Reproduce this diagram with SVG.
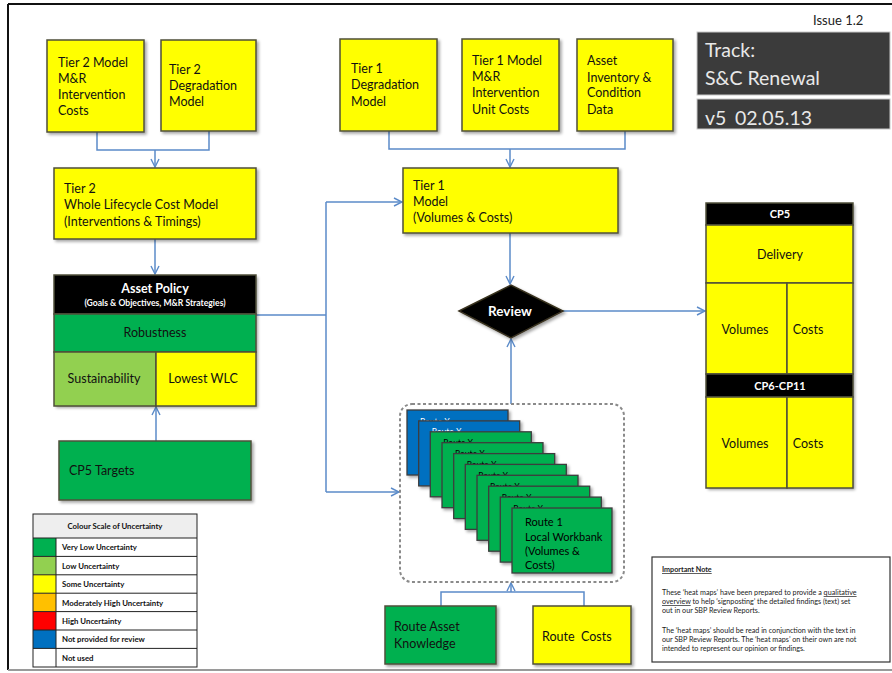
<svg xmlns="http://www.w3.org/2000/svg" width="892" height="673" viewBox="0 0 892 673">
<defs>
<filter id="sh" x="-10%" y="-10%" width="130%" height="130%"><feDropShadow dx="2" dy="2" stdDeviation="1.5" flood-color="#000" flood-opacity="0.35"/></filter>
<marker id="ah" viewBox="0 0 10 10" refX="9" refY="5" markerWidth="10" markerHeight="10" markerUnits="userSpaceOnUse" orient="auto"><path d="M1,1 L9,5 L1,9" fill="none" stroke="#5b8bc9" stroke-width="1.4"/></marker>
<style>
.bx{stroke:#4f4f3a;stroke-width:1.5}
.y{fill:#ffff00}.g{fill:#00b050}.lg{fill:#92d050}.b{fill:#0070c0}.k{fill:#000}
.t{font-family:Lato,"Open Sans","Liberation Sans",sans-serif;font-size:12.5px;fill:#111}
.c{text-anchor:middle}
.wb{font-family:Lato,"Open Sans","Liberation Sans",sans-serif;font-weight:bold;fill:#fff}
.cn{fill:none;stroke:#5b8bc9;stroke-width:1.5}
.ar{marker-end:url(#ah)}
.lt{font-family:Lato,"Open Sans","Liberation Sans",sans-serif;font-size:7.8px;fill:#111;font-weight:bold}
.nt{font-family:Lato,"Open Sans","Liberation Sans",sans-serif;font-size:7.2px;fill:#222}
.tt{font-family:Lato,"Open Sans","Liberation Sans",sans-serif;font-size:19.5px;fill:#e8e8e8}
.card{stroke:#3d3d3d;stroke-width:1.3}
.rx{font-size:8.5px}
</style>
</defs>
<rect width="892" height="673" fill="#fff"/>
<g id="frame">
<path d="M8,4 H892 M8,4 V670" fill="none" stroke="#111" stroke-width="2"/>
<path d="M8,670 H892" fill="none" stroke="#9a9a9a" stroke-width="2"/>
</g>
<g id="title">
<text x="813" y="25" font-family="Lato,'Open Sans',sans-serif" font-size="13" fill="#222">Issue 1.2</text>
<rect x="697" y="32" width="193" height="63" fill="#3b3b3b" stroke="#c8c8c8" stroke-width="1"/>
<text class="tt" x="705" y="57">Track:</text>
<text class="tt" x="705" y="85">S&amp;C Renewal</text>
<rect x="697" y="99" width="193" height="30" fill="#3b3b3b" stroke="#c8c8c8" stroke-width="1"/>
<text class="tt" x="705" y="125">v5</text>
<text class="tt" x="735" y="125">02.05.13</text>
</g>
<g id="connectors">
<path class="cn" d="M97,132 V150 H209 V131"/>
<path class="cn ar" d="M155,150 V167"/>
<path class="cn ar" d="M155,239 V274"/>
<path class="cn" d="M389,131 V149 H625 V131"/>
<path class="cn ar" d="M510,149 V167"/>
<path class="cn ar" d="M510,233 V284"/>
<path class="cn" d="M256,315 H326 M326,202 V492"/>
<path class="cn ar" d="M326,202 H402"/>
<path class="cn ar" d="M326,492 H399"/>
<path class="cn ar" d="M563,311 H705"/>
<path class="cn ar" d="M511,404 V339"/>
<path class="cn ar" d="M156,441 V407"/>
<path class="cn" d="M441,606 V592 H584 V606"/>
<path class="cn ar" d="M511,592 V583"/>
</g>
<g id="tier2-mr">
<rect class="bx y" x="47" y="40" width="97" height="92" filter="url(#sh)"/>
<text class="t" x="58" y="67">Tier 2 Model</text>
<text class="t" x="58" y="83">M&amp;R</text>
<text class="t" x="58" y="99">Intervention</text>
<text class="t" x="58" y="115">Costs</text>
</g>
<g id="tier2-deg">
<rect class="bx y" x="161" y="40" width="95" height="91" filter="url(#sh)"/>
<text class="t" x="169" y="74">Tier 2</text>
<text class="t" x="169" y="90">Degradation</text>
<text class="t" x="169" y="106">Model</text>
</g>
<g id="tier2-wlc">
<rect class="bx y" x="54" y="168" width="202" height="71" filter="url(#sh)"/>
<text class="t" x="64" y="193">Tier 2</text>
<text class="t" x="64" y="209">Whole Lifecycle Cost Model</text>
<text class="t" x="64" y="226">(Interventions &amp; Timings)</text>
</g>
<g id="asset-policy">
<rect x="54" y="275" width="202" height="131" fill="#fff" filter="url(#sh)"/>
<rect class="bx k" x="54" y="275" width="202" height="39"/>
<rect class="bx g" x="54" y="314" width="202" height="38"/>
<rect class="bx lg" x="54" y="352" width="102" height="54"/>
<rect class="bx y" x="156" y="352" width="100" height="54"/>
<text class="wb c" x="155" y="293" font-size="12.5">Asset Policy</text>
<text class="wb c" x="155" y="306" font-size="8.6">(Goals &amp; Objectives, M&amp;R Strategies)</text>
<text class="t c" x="155" y="337">Robustness</text>
<text class="t c" x="104" y="383">Sustainability</text>
<text class="t c" x="203" y="383">Lowest WLC</text>
</g>
<g id="cp5-targets">
<rect class="bx g" x="59" y="441" width="192" height="59" filter="url(#sh)"/>
<text class="t" x="69" y="475">CP5 Targets</text>
</g>
<g id="tier1-deg">
<rect class="bx y" x="340" y="39" width="97" height="92" filter="url(#sh)"/>
<text class="t" x="351" y="73">Tier 1</text>
<text class="t" x="351" y="89">Degradation</text>
<text class="t" x="351" y="106">Model</text>
</g>
<g id="tier1-mr">
<rect class="bx y" x="462" y="39" width="97" height="92" filter="url(#sh)"/>
<text class="t" x="472" y="65">Tier 1 Model</text>
<text class="t" x="472" y="81">M&amp;R</text>
<text class="t" x="472" y="97">Intervention</text>
<text class="t" x="472" y="114">Unit Costs</text>
</g>
<g id="asset-inventory">
<rect class="bx y" x="577" y="39" width="96" height="92" filter="url(#sh)"/>
<text class="t" x="587" y="65">Asset</text>
<text class="t" x="587" y="82">Inventory &amp;</text>
<text class="t" x="587" y="97">Condition</text>
<text class="t" x="587" y="114">Data</text>
</g>
<g id="tier1-model">
<rect class="bx y" x="403" y="168" width="215" height="65" filter="url(#sh)"/>
<text class="t" x="413" y="190">Tier 1</text>
<text class="t" x="413" y="206">Model</text>
<text class="t" x="413" y="222">(Volumes &amp; Costs)</text>
</g>
<g id="review">
<path d="M459,311 L511,285 L563,311 L511,338 Z" fill="#000" stroke="#3a3320" stroke-width="1.5" filter="url(#sh)"/>
<text class="wb c" x="510" y="316" font-size="13.5">Review</text>
</g>
<g id="cp5">
<rect x="706" y="203" width="147" height="285" fill="#fff" filter="url(#sh)"/>
<rect class="bx k" x="706" y="203" width="147" height="22"/>
<rect class="bx y" x="706" y="225" width="147" height="58"/>
<rect class="bx y" x="706" y="283" width="81" height="91"/>
<rect class="bx y" x="787" y="283" width="66" height="91"/>
<rect class="bx k" x="706" y="374" width="147" height="23"/>
<rect class="bx y" x="706" y="397" width="81" height="91"/>
<rect class="bx y" x="787" y="397" width="66" height="91"/>
<text class="wb c" x="780" y="218" font-size="11">CP5</text>
<text class="t c" x="780" y="259">Delivery</text>
<text class="t c" x="745" y="334">Volumes</text>
<text class="t c" x="808" y="334">Costs</text>
<text class="wb c" x="780" y="390" font-size="11">CP6-CP11</text>
<text class="t c" x="745" y="448">Volumes</text>
<text class="t c" x="808" y="448">Costs</text>
</g>
<g id="workbanks">
<rect x="400" y="404" width="224" height="178" rx="12" fill="none" stroke="#8a8a8a" stroke-width="2" stroke-dasharray="3,2.5"/>
<g font-family="Lato,'Open Sans',sans-serif" font-size="11">
<rect class="card b" x="407" y="410" width="101" height="65" filter="url(#sh)"/><text class="rx" x="420" y="424.5" fill="#fff">Route X</text>
<rect class="card b" x="418.7" y="420.9" width="101" height="65" filter="url(#sh)"/><text class="rx" x="431.7" y="435.4" fill="#fff">Route X</text>
<rect class="card g" x="430.3" y="431.8" width="101" height="65" filter="url(#sh)"/><text class="rx" x="443.3" y="446.3">Route X</text>
<rect class="card g" x="442" y="442.7" width="101" height="65" filter="url(#sh)"/><text class="rx" x="455" y="457.2">Route X</text>
<rect class="card g" x="453.7" y="453.6" width="101" height="65" filter="url(#sh)"/><text class="rx" x="466.7" y="468.1">Route X</text>
<rect class="card g" x="465.3" y="464.4" width="101" height="65" filter="url(#sh)"/><text class="rx" x="478.3" y="478.9">Route X</text>
<rect class="card g" x="477" y="475.3" width="101" height="65" filter="url(#sh)"/><text class="rx" x="490" y="489.8">Route X</text>
<rect class="card g" x="488.7" y="486.2" width="101" height="65" filter="url(#sh)"/><text class="rx" x="501.7" y="500.7">Route X</text>
<rect class="card g" x="500.3" y="497.1" width="101" height="65" filter="url(#sh)"/><text class="rx" x="513.3" y="511.6">Route X</text>
<rect class="card g" x="512" y="508" width="100" height="65" filter="url(#sh)"/>
<text x="525" y="526">Route 1</text>
<text x="525" y="541">Local Workbank</text>
<text x="525" y="555">(Volumes &amp;</text>
<text x="525" y="569">Costs)</text>
</g>
</g>
<g id="route-asset-knowledge">
<rect class="bx g" x="385" y="606" width="111" height="58" filter="url(#sh)"/>
<text class="t" x="394" y="631">Route Asset</text>
<text class="t" x="394" y="648">Knowledge</text>
</g>
<g id="route-costs">
<rect class="bx y" x="533" y="606" width="98" height="58" filter="url(#sh)"/>
<text class="t" x="542" y="641" xml:space="preserve">Route  Costs</text>
</g>
<g id="legend">
<rect x="33" y="514" width="164" height="24" fill="#eeeeee"/>
<rect x="33" y="538" width="23" height="18.4" class="g"/>
<rect x="33" y="556.4" width="23" height="18.4" class="lg"/>
<rect x="33" y="574.8" width="23" height="18.4" class="y"/>
<rect x="33" y="593.2" width="23" height="18.4" fill="#ffc000"/>
<rect x="33" y="611.6" width="23" height="18.4" fill="#ff0000"/>
<rect x="33" y="630" width="23" height="18.4" class="b"/>
<rect x="33" y="514" width="164" height="153" fill="none" stroke="#222" stroke-width="1"/>
<path d="M56,538 V667 M33,538 H197 M33,556.4 H197 M33,574.8 H197 M33,593.2 H197 M33,611.6 H197 M33,630 H197 M33,648.4 H197" stroke="#222" stroke-width="1" fill="none"/>
<text class="lt c" x="115" y="529">Colour Scale of Uncertainty</text>
<text class="lt" x="62" y="550">Very Low Uncertainty</text>
<text class="lt" x="62" y="568.5">Low Uncertainty</text>
<text class="lt" x="62" y="587">Some Uncertainty</text>
<text class="lt" x="62" y="605.5">Moderately High Uncertainty</text>
<text class="lt" x="62" y="624">High Uncertainty</text>
<text class="lt" x="62" y="642">Not provided for review</text>
<text class="lt" x="62" y="660.5">Not used</text>
</g>
<g id="important-note">
<rect x="652" y="557" width="238" height="105" fill="#fff" stroke="#333" stroke-width="1.2"/>
<text class="nt" x="662" y="572" font-weight="bold" text-decoration="underline">Important Note</text>
<text class="nt" x="662" y="595">These ‘heat maps’ have been prepared to provide a <tspan text-decoration="underline">qualitative</tspan></text>
<text class="nt" x="662" y="604"><tspan text-decoration="underline">overview</tspan> to help ‘signposting’ the detailed findings (text) set</text>
<text class="nt" x="662" y="613">out in our SBP Review Reports.</text>
<text class="nt" x="662" y="633">The ‘heat maps’ should be read in conjunction with the text in</text>
<text class="nt" x="662" y="642">our SBP Review Reports. The ‘heat maps’ on their own are not</text>
<text class="nt" x="662" y="651">intended to represent our opinion or findings.</text>
</g>
</svg>
